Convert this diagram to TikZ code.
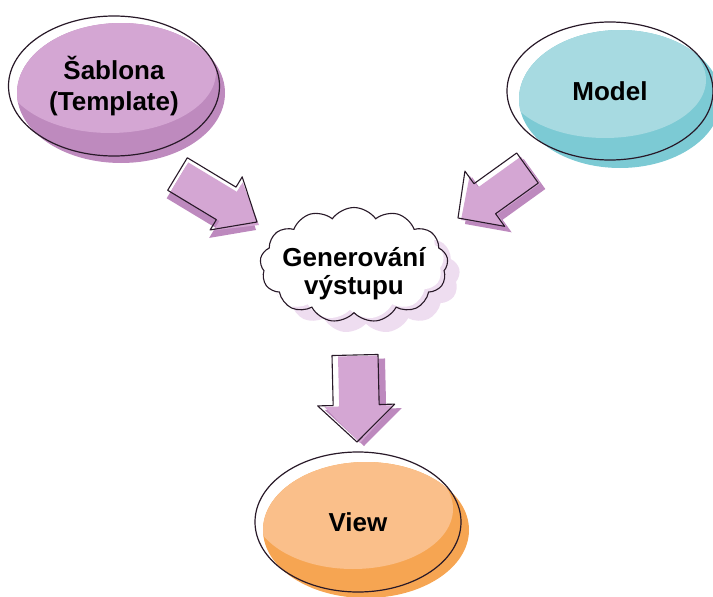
\documentclass[tikz,border=0pt]{standalone}
\usepackage{fontspec}
\setmainfont{Liberation Sans}
\usetikzlibrary{shapes.geometric,shapes.symbols,calc}
\definecolor{tplLight}{RGB}{212,166,211}
\definecolor{tplDark}{RGB}{190,138,190}
\definecolor{mdlLight}{RGB}{167,218,225}
\definecolor{mdlDark}{RGB}{124,202,212}
\definecolor{viewLight}{RGB}{250,191,138}
\definecolor{viewDark}{RGB}{246,165,82}
\definecolor{arrLight}{RGB}{212,166,211}
\definecolor{arrDark}{RGB}{189,137,190}
\definecolor{cloudShadow}{RGB}{238,221,240}
\definecolor{inkline}{RGB}{40,25,40}
\newcommand\bapath[5]{($(#1)!#4!90:(#3)$) -- ($(#2)!#4!90:(#3)$) -- ($(#2)!#5!90:(#3)$) -- (#3) -- ($(#2)!#5!-90:(#3)$) -- ($(#2)!#4!-90:(#3)$) -- ($(#1)!#4!-90:(#3)$) -- cycle}
\tikzset{
  bubble/.style={ellipse, draw=inkline, line width=1.2pt, inner sep=0pt, align=center,
    font=\fontsize{26}{31}\selectfont\bfseries},
  arrowline/.style={draw=inkline, line width=1.1pt, line join=round},
  cloudbase/.style={cloud, cloud puffs=13, cloud puff arc=110, aspect=1.65,
    minimum width=188pt, minimum height=115pt, inner sep=0pt},
}
\begin{document}
\begin{tikzpicture}[x=1pt,y=-1pt]
\useasboundingbox (0,0) rectangle (713,597);
% ---------- bubble fills ----------
% Template
\fill[tplDark] (121,93) ellipse [x radius=104, y radius=70];
\begin{scope}
  \clip (121,93) ellipse [x radius=104, y radius=70];
  \fill[tplLight] (110,72) ellipse [x radius=106, y radius=61];
\end{scope}
% Model
\fill[mdlDark] (620,99) ellipse [x radius=101, y radius=69];
\begin{scope}
  \clip (620,99) ellipse [x radius=101, y radius=69];
  \fill[mdlLight] (605,80) ellipse [x radius=101, y radius=58];
\end{scope}
% View
\fill[viewDark] (366,530) ellipse [x radius=103, y radius=68];
\begin{scope}
  \clip (366,530) ellipse [x radius=103, y radius=68];
  \fill[viewLight] (353,509) ellipse [x radius=100, y radius=60];
\end{scope}
% ---------- bubble outlines with text ----------
\node[bubble, minimum width=211pt, minimum height=140pt] (tmpl) at (114,86) {Šablona\\(Template)};
\node[bubble, minimum width=206pt, minimum height=138pt] (model) at (610,91) {Model};
\node[bubble, minimum width=206pt, minimum height=140pt] (view) at (358,522) {View};
% ---------- cloud ----------
\node[cloudbase, fill=cloudShadow] (genshadow) at (366,276) {};
\node[cloudbase, fill=white] (genfill) at (350,262) {};
\node[cloudbase, draw=inkline, line width=1.1pt] (genoutline) at (354,265) {};
\node[align=center, inner sep=0pt, font=\fontsize{26}{28}\selectfont\bfseries] (gen) at (354,274) {Generování\\výstupu};
% ---------- block arrows ----------
\coordinate (la) at (177.5,174); \coordinate (lb) at (257,222);
\coordinate (ln) at ($(lb)!36pt!(la)$);
\coordinate (ra) at (527.5,168); \coordinate (rb) at (458,218);
\coordinate (rn) at ($(rb)!33pt!(ra)$);
\coordinate (da) at (355,355); \coordinate (db) at (357,442);
\coordinate (dn) at ($(db)!37pt!(da)$);
% left arrow (Template -> Generovani)
\fill[arrDark, transform canvas={shift={(-1,8)}}] \bapath{la}{ln}{lb}{19pt}{31pt};
\fill[arrLight, transform canvas={shift={(2,3)}}] \bapath{la}{ln}{lb}{17pt}{28pt};
\draw[arrowline] \bapath{la}{ln}{lb}{19pt}{31pt};
% right arrow (Model -> Generovani)
\fill[arrDark, transform canvas={shift={(7,6)}}] \bapath{ra}{rn}{rb}{18.5pt}{34pt};
\fill[arrLight, transform canvas={shift={(3,2)}}] \bapath{ra}{rn}{rb}{16.5pt}{31pt};
\draw[arrowline] \bapath{ra}{rn}{rb}{18.5pt}{34pt};
% down arrow (Generovani -> View)
\fill[arrDark, transform canvas={shift={(7,4)}}] \bapath{da}{dn}{db}{23pt}{38.5pt};
\fill[arrLight, transform canvas={shift={(3,1)}}] \bapath{da}{dn}{db}{20pt}{35pt};
\draw[arrowline] \bapath{da}{dn}{db}{23pt}{38.5pt};
\end{tikzpicture}
\end{document}
